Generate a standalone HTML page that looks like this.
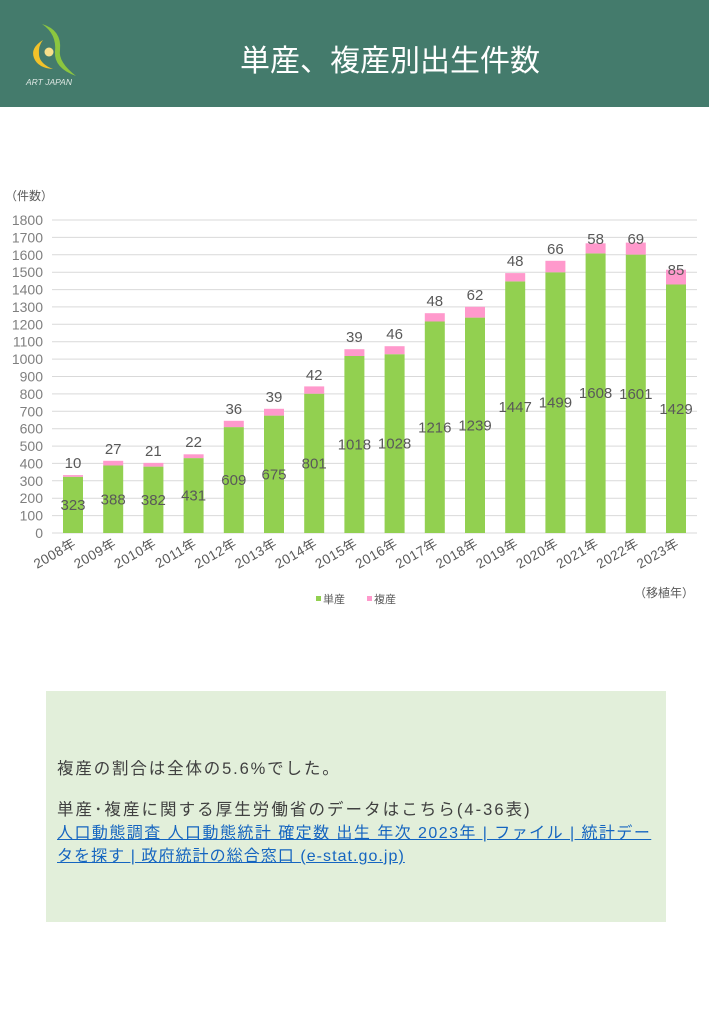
<!DOCTYPE html>
<html><head><meta charset="utf-8"><style>
body{margin:0;width:709px;height:1024px;background:#fff;position:relative;overflow:hidden;font-family:"Liberation Sans","Noto Sans CJK JP",sans-serif}
.hdr{position:absolute;left:0;top:0;width:709px;height:107px;background:#447b6c}
.title{position:absolute;left:240px;top:36px;font-size:30px;color:#fff;white-space:nowrap}
.box{position:absolute;left:46px;top:691px;width:620px;height:231px;background:#e2efda}
.box p{margin:0;position:absolute;left:11px;font-size:16.5px;color:#404040;white-space:nowrap}
.box a{color:#1565c0;text-decoration:underline}
</style></head><body>
<div class="hdr">
<svg width="110" height="107" style="position:absolute;left:0;top:0">
<path d="M42 24 Q62 30 60 50 Q58 62 76 76 Q54 68 55 52 Q57 34 42 24Z" fill="#8cc63f"/>
<path d="M43 40 Q30 48 34 58 Q38 68 53 69 Q40 64 39 55 Q38 46 43 40Z" fill="#f2c22a"/>
<circle cx="49" cy="52" r="4.5" fill="#f8e08a"/>
<text x="26" y="85" font-size="8.5" font-style="italic" fill="#dfe8e4" font-family="Liberation Sans">ART JAPAN</text>
</svg>
<div class="title">単産、複産別出生件数</div>
</div>
<svg width="709" height="640" style="position:absolute;left:0;top:0" font-family="Liberation Sans, Noto Sans CJK JP, sans-serif">
<text x="5" y="200" font-size="12" fill="#595959">（件数）</text>
<g stroke="#d9d9d9" stroke-width="1">
<line x1="52" x2="697" y1="533" y2="533"/><line x1="52" x2="697" y1="515.6" y2="515.6"/><line x1="52" x2="697" y1="498.2" y2="498.2"/><line x1="52" x2="697" y1="480.8" y2="480.8"/><line x1="52" x2="697" y1="463.4" y2="463.4"/><line x1="52" x2="697" y1="446.1" y2="446.1"/><line x1="52" x2="697" y1="428.7" y2="428.7"/><line x1="52" x2="697" y1="411.3" y2="411.3"/><line x1="52" x2="697" y1="393.9" y2="393.9"/><line x1="52" x2="697" y1="376.5" y2="376.5"/><line x1="52" x2="697" y1="359.1" y2="359.1"/><line x1="52" x2="697" y1="341.7" y2="341.7"/><line x1="52" x2="697" y1="324.3" y2="324.3"/><line x1="52" x2="697" y1="306.9" y2="306.9"/><line x1="52" x2="697" y1="289.6" y2="289.6"/><line x1="52" x2="697" y1="272.2" y2="272.2"/><line x1="52" x2="697" y1="254.8" y2="254.8"/><line x1="52" x2="697" y1="237.4" y2="237.4"/><line x1="52" x2="697" y1="220" y2="220"/>
</g>
<g font-size="14" fill="#7f7f7f" text-anchor="end">
<text x="43" y="538">0</text><text x="43" y="520.6">100</text><text x="43" y="503.2">200</text><text x="43" y="485.8">300</text><text x="43" y="468.4">400</text><text x="43" y="451.1">500</text><text x="43" y="433.7">600</text><text x="43" y="416.3">700</text><text x="43" y="398.9">800</text><text x="43" y="381.5">900</text><text x="43" y="364.1">1000</text><text x="43" y="346.7">1100</text><text x="43" y="329.3">1200</text><text x="43" y="311.9">1300</text><text x="43" y="294.6">1400</text><text x="43" y="277.2">1500</text><text x="43" y="259.8">1600</text><text x="43" y="242.4">1700</text><text x="43" y="225">1800</text>
</g>
<g fill="#92d050">
<rect x="63" y="476.8" width="20" height="56.2"/><rect x="103.2" y="465.5" width="20" height="67.5"/><rect x="143.4" y="466.6" width="20" height="66.4"/><rect x="183.6" y="458.1" width="20" height="74.9"/><rect x="223.8" y="427.1" width="20" height="105.9"/><rect x="264" y="415.6" width="20" height="117.4"/><rect x="304.2" y="393.7" width="20" height="139.3"/><rect x="344.4" y="356" width="20" height="177"/><rect x="384.6" y="354.2" width="20" height="178.8"/><rect x="424.8" y="321.5" width="20" height="211.5"/><rect x="465" y="317.6" width="20" height="215.4"/><rect x="505.2" y="281.4" width="20" height="251.6"/><rect x="545.4" y="272.3" width="20" height="260.7"/><rect x="585.6" y="253.4" width="20" height="279.6"/><rect x="625.8" y="254.6" width="20" height="278.4"/><rect x="666" y="284.5" width="20" height="248.5"/>
</g>
<g fill="#ff99cc">
<rect x="63" y="475.1" width="20" height="1.7"/><rect x="103.2" y="460.8" width="20" height="4.7"/><rect x="143.4" y="462.9" width="20" height="3.7"/><rect x="183.6" y="454.3" width="20" height="3.8"/><rect x="223.8" y="420.8" width="20" height="6.3"/><rect x="264" y="408.8" width="20" height="6.8"/><rect x="304.2" y="386.4" width="20" height="7.3"/><rect x="344.4" y="349.2" width="20" height="6.8"/><rect x="384.6" y="346.2" width="20" height="8"/><rect x="424.8" y="313.2" width="20" height="8.3"/><rect x="465" y="306.8" width="20" height="10.8"/><rect x="505.2" y="273.1" width="20" height="8.3"/><rect x="545.4" y="260.8" width="20" height="11.5"/><rect x="585.6" y="243.3" width="20" height="10.1"/><rect x="625.8" y="242.6" width="20" height="12"/><rect x="666" y="269.7" width="20" height="14.8"/>
</g>
<g font-size="15" fill="#595959" text-anchor="middle">
<text x="73" y="510">323</text><text x="113.2" y="504.3">388</text><text x="153.4" y="504.8">382</text><text x="193.6" y="500.6">431</text><text x="233.8" y="485">609</text><text x="274" y="479.3">675</text><text x="314.2" y="468.4">801</text><text x="354.4" y="449.5">1018</text><text x="394.6" y="448.6">1028</text><text x="434.8" y="432.3">1216</text><text x="475" y="430.3">1239</text><text x="515.2" y="412.2">1447</text><text x="555.4" y="407.7">1499</text><text x="595.6" y="398.2">1608</text><text x="635.8" y="398.8">1601</text><text x="676" y="413.8">1429</text>
<text x="73" y="468">10</text><text x="113.2" y="454">27</text><text x="153.4" y="456">21</text><text x="193.6" y="447">22</text><text x="233.8" y="414">36</text><text x="274" y="402">39</text><text x="314.2" y="380">42</text><text x="354.4" y="342">39</text><text x="394.6" y="339">46</text><text x="434.8" y="306">48</text><text x="475" y="300">62</text><text x="515.2" y="266">48</text><text x="555.4" y="254">66</text><text x="595.6" y="244">58</text><text x="635.8" y="244">69</text><text x="676" y="275">85</text>
</g>
<g font-size="13.5" fill="#595959" text-anchor="end" letter-spacing="0.5">
<text transform="translate(77,546) rotate(-30)">2008年</text><text transform="translate(117.2,546) rotate(-30)">2009年</text><text transform="translate(157.4,546) rotate(-30)">2010年</text><text transform="translate(197.6,546) rotate(-30)">2011年</text><text transform="translate(237.8,546) rotate(-30)">2012年</text><text transform="translate(278,546) rotate(-30)">2013年</text><text transform="translate(318.2,546) rotate(-30)">2014年</text><text transform="translate(358.4,546) rotate(-30)">2015年</text><text transform="translate(398.6,546) rotate(-30)">2016年</text><text transform="translate(438.8,546) rotate(-30)">2017年</text><text transform="translate(479,546) rotate(-30)">2018年</text><text transform="translate(519.2,546) rotate(-30)">2019年</text><text transform="translate(559.4,546) rotate(-30)">2020年</text><text transform="translate(599.6,546) rotate(-30)">2021年</text><text transform="translate(639.8,546) rotate(-30)">2022年</text><text transform="translate(680,546) rotate(-30)">2023年</text>
</g>
<rect x="316" y="596" width="5" height="5" fill="#92d050"/><text x="323" y="603" font-size="11" fill="#595959">単産</text>
<rect x="367" y="596" width="5" height="5" fill="#ff99cc"/><text x="374" y="603" font-size="11" fill="#595959">複産</text>
<text x="634" y="597" font-size="12" fill="#595959">（移植年）</text>
</svg>
<div class="box">
<p style="top:64px;letter-spacing:1.85px">複産の割合は全体の5.6%でした。</p>
<p style="top:105px;letter-spacing:2.05px">単産･複産に関する厚生労働省のデータはこちら(4-36表)</p>
<p style="top:128px;font-size:16px;letter-spacing:1.45px"><a>人口動態調査 人口動態統計 確定数 出生 年次 2023年 | ファイル | 統計デー</a></p>
<p style="top:151px;font-size:16px;letter-spacing:1.05px"><a>タを探す | 政府統計の総合窓口 (e-stat.go.jp)</a></p>
</div>
</body></html>
